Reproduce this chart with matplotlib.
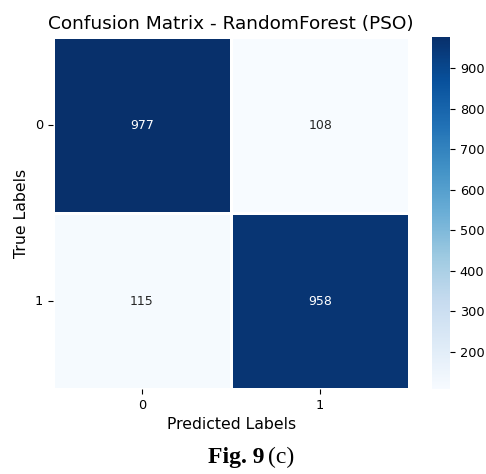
import matplotlib
matplotlib.use("Agg")
import matplotlib.pyplot as plt
import seaborn as sns
import numpy as np

# confusion matrix values
cm = np.array([[977, 108],
               [115, 958]])
labels = ["0", "1"]

fig = plt.figure(figsize=(4.86, 4.74), dpi=100)
ax = fig.add_axes([0.109, 0.179, 0.733, 0.743])
cax = fig.add_axes([0.889, 0.179, 0.037, 0.743])

sns.heatmap(cm, annot=True, fmt="d", cmap="Blues", linewidths=1, linecolor="white",
            xticklabels=labels, yticklabels=labels, ax=ax, cbar_ax=cax,
            annot_kws={"fontsize": 9})
ax.set_title("Confusion Matrix - RandomForest (PSO)", fontsize=13.3)
ax.set_xlabel("Predicted Labels", fontsize=11.3)
ax.set_ylabel("True Labels", fontsize=11.3)
ax.tick_params(labelsize=9.3)
ax.set_yticklabels(labels, rotation=0)
cax.tick_params(labelsize=9.3)
cax.set_yticks([200, 300, 400, 500, 600, 700, 800, 900])

# caption under the figure
fig.text(264 / 486, 0.035, "Fig. 9", ha="right", va="center",
         fontsize=17, fontweight="bold", family="Liberation Serif")
fig.text(268 / 486, 0.035, "(c)", ha="left", va="center",
         fontsize=17, family="Liberation Serif")

fig.savefig("out.png", dpi=100)
